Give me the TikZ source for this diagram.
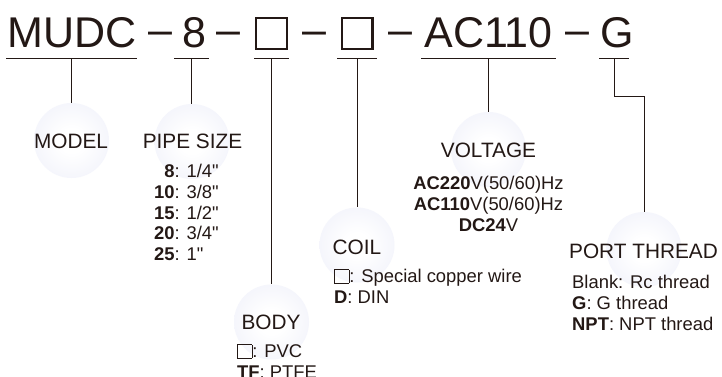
\documentclass[tikz,border=0pt]{standalone}
\usepackage{fontspec}
\usepackage{tikz}
\newfontfamily\arial{Liberation Sans}
\definecolor{ink}{RGB}{35,24,21}
\definecolor{halo}{RGB}{225,229,246}
\definecolor{mist}{RGB}{243,244,251}
\pgfdeclareradialshading{glow}{\pgfpointorigin}{color(0bp)=(white); color(8bp)=(white); color(28bp)=(mist); color(50bp)=(halo)}
\newcommand{\blank}{{\setlength\fboxsep{0pt}\setlength\fboxrule{0.9pt}\fbox{\rule{0pt}{12.4pt}\hspace{13.4pt}}}}
\tikzstyle{part} = [font=\arial\fontsize{43}{43}\selectfont, text=ink, inner sep=0pt, anchor=base]
\tikzstyle{sqr} = [draw=ink, line width=2.4pt, minimum size=30.6pt, inner sep=0pt]
\tikzstyle{ball} = [circle, minimum size=75pt, inner sep=0pt, shading=glow]
\tikzstyle{heading} = [font=\arial\fontsize{20.8}{24}\selectfont, text=ink, inner sep=0pt]
\tikzstyle{choices} = [font=\arial\fontsize{18.4}{20.7}\selectfont, text=ink, inner sep=0pt]
\tikzstyle{wire} = [draw=ink, line width=1pt]

\begin{document}
\begin{tikzpicture}[x=1pt, y=-1pt]
	\path[use as bounding box, fill=white] (0,0) rectangle (722,376);
	\node[part] (mudc) at (72,47) {MUDC};
	\node[part] (size) at (194,47) {8};
	\node[sqr] (body) at (271.5,33.5) {};
	\node[sqr] (coil) at (357,33.5) {};
	\node[part] (volt) at (488.5,47) {AC110};
	\node[part] (port) at (617,47) {G};
	\foreach \x in {160,228,314,400,577.5}
		\node[part] at (\x,44.6) {–};
	\foreach \a/\b/\n in {6/137/mudc,174/209/size,254/289/body,337/377/coil,421/556/volt,599/629/port}{
		\draw[wire] (\a,58) -- (\b,58);
		\coordinate (top-\n) at ({(\a+\b)/2},58);
	}

	\node[ball] (c-mudc) at (71.5,140.5) {};
	\node[ball] (c-size) at (192,141.5) {};
	\node[ball] (c-body) at (271.5,322) {};
	\node[ball] (c-coil) at (357,245) {};
	\node[ball] (c-volt) at (488.5,149.5) {};
	\node[ball] (c-port) at (644,249.5) {};

	\draw[wire] (top-mudc) -- (top-mudc |- c-mudc.north);
	\draw[wire] (top-size) -- (top-size |- c-size.north);
	\draw[wire] (top-body) -- (top-body |- c-body.north);
	\draw[wire] (top-coil) -- (top-coil |- c-coil.north);
	\draw[wire] (top-volt) -- (top-volt |- c-volt.north);
	\coordinate (bend) at (644,96);
	\draw[wire] (top-port) |- (bend) -- (c-port.north);

	\node[heading] (h-mudc) at (71,141) {MODEL};
	\node[heading] (h-size) at (192.5,141) {PIPE SIZE};
	\node[heading] (h-body) at (271,322.5) {BODY};
	\node[heading] (h-coil) at (357,247) {COIL};
	\node[heading] (h-volt) at (488.5,150) {VOLTAGE};
	\node[heading] (h-port) at (643.5,251) {PORT THREAD};

	\node[choices, anchor=north west] (l-size) at (154,163) {%
		\begin{tabular}{@{}r@{}l@{}}
			\textbf{8}&: 1/4"\\
			\textbf{10}&: 3/8"\\
			\textbf{15}&: 1/2"\\
			\textbf{20}&: 3/4"\\
			\textbf{25}&: 1"
		\end{tabular}};
	\node[choices, anchor=north west] (l-body) at (237,343) {%
		\begin{tabular}{@{}l@{}}
			\blank: PVC\\
			\textbf{TF}: PTFE
		\end{tabular}};
	\node[choices, anchor=north west] (l-coil) at (334,268) {%
		\begin{tabular}{@{}l@{}}
			\blank: Special copper wire\\
			\textbf{D}: DIN
		\end{tabular}};
	\node[choices, anchor=north] (l-volt) at (488.5,175) {%
		\begin{tabular}{@{}c@{}}
			\textbf{AC220}V(50/60)Hz\\
			\textbf{AC110}V(50/60)Hz\\
			\textbf{DC24}V
		\end{tabular}};
	\node[choices, anchor=north west] (l-port) at (572,274) {%
		\begin{tabular}{@{}l@{}}
			Blank: Rc thread\\
			\textbf{G}: G thread\\
			\textbf{NPT}: NPT thread
		\end{tabular}};
\end{tikzpicture}
\end{document}
